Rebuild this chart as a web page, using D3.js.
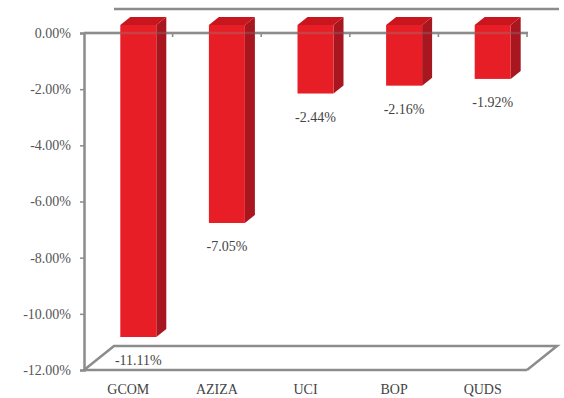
<!DOCTYPE html>
<html>
<head>
<meta charset="utf-8">
<script src="https://cdn.jsdelivr.net/npm/d3@7"></script>
<style>
  body { margin: 0; background: #fff; }
  text { font-family: "Liberation Serif", "Times New Roman", serif; }
</style>
</head>
<body>
<div id="chart"></div>
<script>
const categories = ["GCOM", "AZIZA", "UCI", "BOP", "QUDS"];
const values = [-0.1111, -0.0705, -0.0244, -0.0216, -0.0192];
const yTicks = [0, -0.02, -0.04, -0.06, -0.08, -0.10, -0.12];

const width = 564, height = 398;
const depth = {dx: 30, dy: -24};   // full depth of the 3d box
const barW = 36;

const pct = v => d3.format(".2%")(v).replace("\u2212", "-");

const svg = d3.select("#chart").append("svg")
    .attr("width", width)
    .attr("height", height);

const xScale = d3.scaleBand()
    .domain(categories)
    .range([84, 527]);

const yScale = d3.scaleLinear()
    .domain([-0.12, 0])
    .range([370, 33]);

const grey = "#8c8c8c";

/* back edge of the top and the floor */
const x0 = xScale.range()[0], x1 = xScale.range()[1];
const yTop = yScale(0), yBot = yScale(-0.12);

svg.append("line")
    .attr("x1", x0 + depth.dx).attr("x2", x1 + depth.dx + 2)
    .attr("y1", yTop + depth.dy).attr("y2", yTop + depth.dy)
    .attr("stroke", grey).attr("stroke-width", 2.5);

svg.append("path")
    .attr("d", `M${x0},${yBot} L${x0 + depth.dx},${yBot + depth.dy} L${x1 + depth.dx},${yBot + depth.dy} L${x1},${yBot}`)
    .attr("fill", "none").attr("stroke", grey).attr("stroke-width", 2.5);

/* y axis */
const yAxis = svg.append("g")
    .attr("transform", `translate(${x0},0)`)
    .call(d3.axisLeft(yScale).tickValues(yTicks).tickFormat(pct).tickSize(4).tickPadding(9));
yAxis.select(".domain").attr("stroke", grey).attr("stroke-width", 2.5);
yAxis.selectAll(".tick line").attr("stroke", grey).attr("stroke-width", 1.5);
yAxis.selectAll("text")
    .attr("font-size", 14)
    .attr("fill", "#555");

/* bottom front line */
svg.append("line")
    .attr("x1", x0).attr("x2", x1)
    .attr("y1", yBot).attr("y2", yBot)
    .attr("stroke", grey).attr("stroke-width", 2.5);

/* zero line with category ticks */
function zeroLine(op) {
    const g = svg.append("g").attr("opacity", op);
    g.append("line")
        .attr("x1", x0).attr("x2", x1 + 1)
        .attr("y1", yTop).attr("y2", yTop)
        .attr("stroke", grey).attr("stroke-width", 2.5);
    g.selectAll(".ct")
        .data(categories)
        .enter()
        .append("line")
            .attr("x1", d => xScale(d) + xScale.bandwidth())
            .attr("x2", d => xScale(d) + xScale.bandwidth())
            .attr("y1", yTop).attr("y2", yTop + 4)
            .attr("stroke", grey).attr("stroke-width", 1.5);
}
zeroLine(1);

/* bars */
const fx = depth.dx / 3, fy = depth.dy / 3;   // bars sit in the middle third
const bx = depth.dx / 3, by = depth.dy / 3;   // bar thickness

const bars = svg.selectAll(".bar")
    .data(categories.map((c, i) => ({cat: c, v: values[i]})))
    .enter()
    .append("g")
    .attr("class", "bar");

function left(d) { return xScale(d.cat) + xScale.bandwidth() / 2 - barW / 2 + fx; }

// side
bars.append("path")
    .attr("d", function(d) {
        const l = left(d) + barW, t = yScale(0) + fy, b = yScale(d.v) + fy;
        return `M${l},${t} L${l + bx},${t + by} L${l + bx},${b + by} L${l},${b} Z`;
    })
    .attr("fill", "#a8161f");

// top
bars.append("path")
    .attr("d", function(d) {
        const l = left(d), t = yScale(0) + fy;
        return `M${l},${t} L${l + bx},${t + by} L${l + barW + bx},${t + by} L${l + barW},${t} Z`;
    })
    .attr("fill", "#c9151d");

// front
bars.append("rect")
    .attr("x", d => left(d))
    .attr("y", yScale(0) + fy)
    .attr("width", barW)
    .attr("height", d => yScale(d.v) - yScale(0))
    .attr("fill", "#e81e26");

zeroLine(0.3);

/* value labels */
bars.append("text")
    .attr("x", d => left(d) + barW / 2)
    .attr("y", d => yScale(d.v) + fy + 28)
    .attr("text-anchor", "middle")
    .attr("font-size", 14)
    .attr("fill", "#444")
    .text(d => pct(d.v));

/* category labels */
svg.selectAll(".cat")
    .data(categories)
    .enter()
    .append("text")
        .attr("x", d => xScale(d) + xScale.bandwidth() / 2)
        .attr("y", 394)
        .attr("text-anchor", "middle")
        .attr("font-size", 14)
        .attr("fill", "#444")
        .text(d => d);
</script>
</body>
</html>
